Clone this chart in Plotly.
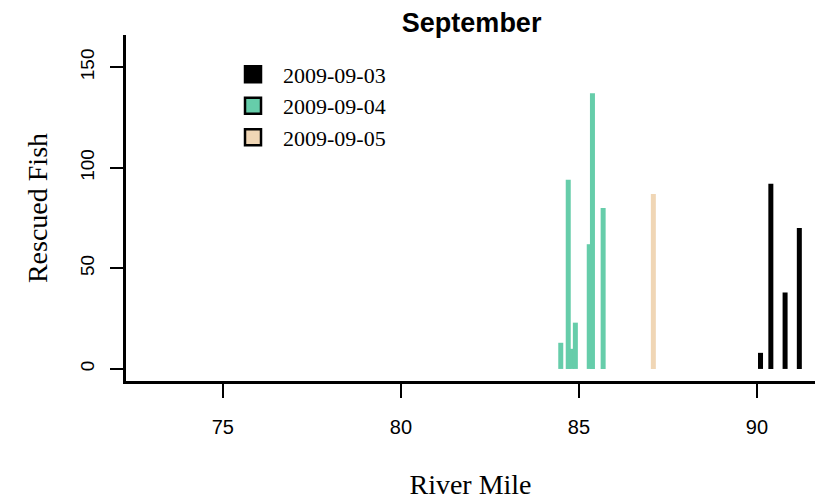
import plotly.graph_objects as go

dates = ["2009-09-03", "2009-09-04", "2009-09-05"]
colors = ["#000000", "#66CDAA", "#F0D6B5"]

miles_0903 = [90.10, 90.39, 90.79, 91.19]
fish_0903 = [8, 92, 38, 70]
miles_0904 = [84.49, 84.70, 84.80, 84.90, 85.29, 85.38, 85.68]
fish_0904 = [13, 94, 10, 23, 62, 137, 80]
miles_0905 = [87.09]
fish_0905 = [87]

series = [(miles_0903, fish_0903), (miles_0904, fish_0904), (miles_0905, fish_0905)]

xticks = [75, 80, 85, 90]
yticks = [0, 50, 100, 150]

fig = go.Figure()
for (miles, fish), col in zip(series, colors):
    xs, ys = [], []
    for m, f in zip(miles, fish):
        xs += [m, m, None]
        ys += [0, f, None]
    fig.add_trace(go.Scatter(x=xs, y=ys, mode="lines",
                             line=dict(color=col, width=5),
                             showlegend=False, hoverinfo="skip"))

for d, col in zip(dates, colors):
    fig.add_trace(go.Scatter(x=[None], y=[None], mode="markers", name=d,
                             marker=dict(symbol="square", size=17, color=col,
                                         line=dict(color="black", width=2.5))))

fig.update_layout(
    width=815, height=502,
    margin=dict(l=126, r=0, t=35, b=121),
    plot_bgcolor="white", paper_bgcolor="white",
    title=dict(text="<b>September</b>", x=0.5787, xanchor="center", y=0.955, yanchor="middle",
               font=dict(family="Liberation Sans", size=27, color="black")),
    legend=dict(x=0.1408, y=0.947, xanchor="left", yanchor="top", itemwidth=50,
                font=dict(family="Liberation Serif", size=22, color="black"),
                bgcolor="rgba(0,0,0,0)", tracegroupgap=0),
    xaxis=dict(range=[72.28, 91.63], tickvals=xticks, ticks="outside", ticklen=14,
               tickwidth=1.5, tickcolor="black", showline=True, linewidth=3, linecolor="black",
               showgrid=False, zeroline=False, ticklabelstandoff=12,
               tickfont=dict(family="Liberation Sans", size=20, color="black"),
               title=dict(text="River Mile", standoff=38,
                          font=dict(family="Liberation Serif", size=28, color="black"))),
    yaxis=dict(range=[-6, 166], tickvals=yticks, ticks="outside", ticklen=13,
               tickwidth=1.5, tickcolor="black", showline=True, linewidth=3, linecolor="black",
               showgrid=False, zeroline=False, tickangle=-90, ticklabelstandoff=8,
               tickfont=dict(family="Liberation Sans", size=19, color="black"),
               title=dict(text="Rescued Fish", standoff=22,
                          font=dict(family="Liberation Serif", size=28, color="black"))),
)

fig.write_html("out.html")
